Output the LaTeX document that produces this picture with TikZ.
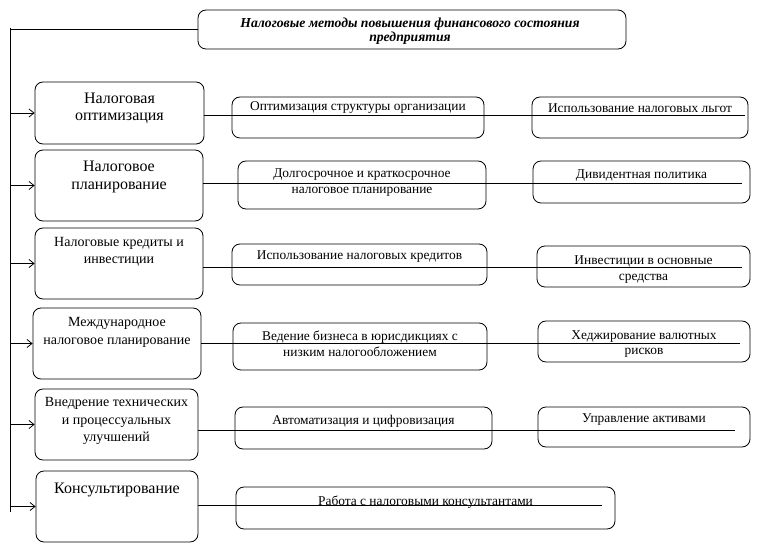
\documentclass[tikz,border=0pt]{standalone}
\usepackage{fontspec}
\setmainfont{Liberation Serif}
\usetikzlibrary{arrows.meta}
\begin{document}
\begin{tikzpicture}[x=1pt,y=-1pt,
  box/.style={draw,rounded corners=8pt,line width=0.8pt,inner sep=0pt},
  bigtxt/.style={align=center,inner sep=0pt,font=\fontsize{16}{17.5}\selectfont},
  midtxt/.style={align=center,inner sep=0pt,font=\fontsize{14}{17.5}\selectfont},
  smtxt/.style={align=center,inner sep=0pt,font=\fontsize{13.4}{15.5}\selectfont},
  ttltxt/.style={align=center,inner sep=0pt,font=\fontsize{13.7}{14}\selectfont\bfseries\itshape},
  conn/.style={line width=0.8pt},
  arr/.style={line width=0.8pt,-{Straight Barb[length=5pt,width=8pt]}}]
\useasboundingbox (0,0) rectangle (761,556);
% title
\node[box,minimum width=428,minimum height=39] (title) at (412,29.5) {};
\node[ttltxt] (ttitle) at (410,31) {Налоговые методы повышения финансового состояния\\предприятия};
% left boxes
\node[box,minimum width=169,minimum height=62] (l1) at (119.5,113) {};
\node[bigtxt] (tl1) at (119.5,108.5) {Налоговая\\оптимизация};
\node[box,minimum width=168,minimum height=71] (l2) at (119,185.5) {};
\node[bigtxt] (tl2) at (119,177) {Налоговое\\планирование};
\node[box,minimum width=168,minimum height=71] (l3) at (119,263.5) {};
\node[midtxt] (tl3) at (119,252) {Налоговые кредиты и\\инвестиции};
\node[box,minimum width=168,minimum height=71] (l4) at (117,343.5) {};
\node[midtxt] (tl4) at (117,332.5) {Международное\\налоговое планирование};
\node[box,minimum width=163,minimum height=71] (l5) at (116.5,424.5) {};
\node[midtxt] (tl5) at (116.5,421) {Внедрение технических\\и процессуальных\\улучшений};
\node[box,minimum width=162,minimum height=71] (l6) at (117,506.5) {};
\node[bigtxt] (tl6) at (117,490) {Консультирование};
% middle boxes
\node[box,minimum width=252,minimum height=41] (m1) at (358,117.5) {};
\node[smtxt] (tm1) at (358,108) {Оптимизация структуры организации};
\node[box,minimum width=248,minimum height=48] (m2) at (362,185) {};
\node[smtxt] (tm2) at (362,182.5) {Долгосрочное и краткосрочное\\налоговое планирование};
\node[box,minimum width=255,minimum height=41] (m3) at (359.5,264.5) {};
\node[smtxt] (tm3) at (359.5,257) {Использование налоговых кредитов};
\node[box,minimum width=254,minimum height=47] (m4) at (360,346.5) {};
\node[smtxt] (tm4) at (360,344) {Ведение бизнеса в юрисдикциях с\\низким налогообложением};
\node[box,minimum width=257,minimum height=42] (m5) at (363.5,428) {};
\node[smtxt] (tm5) at (363.5,421) {Автоматизация и цифровизация};
\node[box,minimum width=379,minimum height=42] (m6) at (425.5,508) {};
\node[smtxt] (tm6) at (425.5,502) {Работа с налоговыми консультантами};
% right boxes
\node[box,minimum width=216,minimum height=41] (r1) at (640,117.5) {};
\node[smtxt] (tr1) at (640,108) {Использование налоговых льгот};
\node[box,minimum width=217,minimum height=42] (r2) at (641.5,182) {};
\node[smtxt] (tr2) at (641.5,176) {Дивидентная политика};
\node[box,minimum width=213,minimum height=41] (r3) at (643.5,266.5) {};
\node[smtxt] (tr3) at (643.5,269.5) {Инвестиции в основные\\средства};
\node[box,minimum width=212,minimum height=41] (r4) at (644,341.5) {};
\node[smtxt] (tr4) at (644,344) {Хеджирование валютных\\рисков};
\node[box,minimum width=212,minimum height=40] (r5) at (644,427) {};
\node[smtxt] (tr5) at (644,420) {Управление активами};
% spine
\coordinate (vtop) at (10,28);
\coordinate (vbot) at (10,512);
\draw[conn] (vtop) -- (vbot);
\draw[conn] (vtop |- title.west) -- (title.west);
\foreach \n in {l1,l2,l3,l4,l5,l6}{
  \draw[arr] (vtop |- \n.west) -- (\n.west);
}
% horizontal connectors
\coordinate (e1) at (745,115);
\coordinate (e2) at (742,183);
\coordinate (e3) at (742,267);
\coordinate (e4) at (740,343);
\coordinate (e5) at (735,430);
\coordinate (e6) at (602,505);
\draw[conn] (l1.east |- e1) -- (e1);
\draw[conn] (l2.east |- e2) -- (e2);
\draw[conn] (l3.east |- e3) -- (e3);
\draw[conn] (l4.east |- e4) -- (e4);
\draw[conn] (l5.east |- e5) -- (e5);
\draw[conn] (l6.east |- e6) -- (e6);
\end{tikzpicture}
\end{document}
